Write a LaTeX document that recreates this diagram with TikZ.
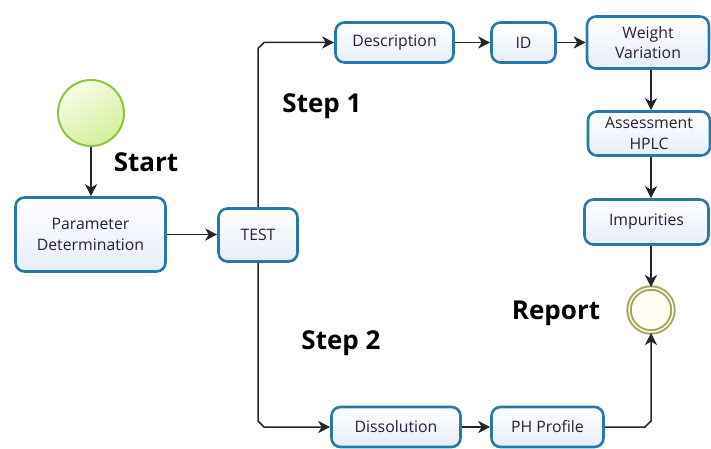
\documentclass[tikz,border=0pt]{standalone}
\usepackage{fontspec}
\setmainfont{Open Sans}
\usetikzlibrary{arrows.meta,calc}

\definecolor{boxline}{HTML}{2A78A8}
\definecolor{boxfill}{HTML}{E6EDFB}
\definecolor{boxtext}{HTML}{2C1E36}
\definecolor{startline}{HTML}{8CC63E}
\definecolor{starttop}{HTML}{F8FDE6}
\definecolor{startbot}{HTML}{D3EE9C}
\definecolor{endline}{HTML}{A9A35E}
\definecolor{endfill}{HTML}{FFFCF2}

\tikzset{
  task/.style={draw=boxline, line width=2.6pt, rounded corners=9pt,
    top color=white, bottom color=boxfill, align=center, inner sep=0pt,
    text=boxtext, font=\fontsize{15.8}{20.5}\selectfont},
  startevent/.style={circle, draw=startline, line width=2pt,
    top color=starttop, bottom color=startbot, shading angle=30, inner sep=0pt},
  endevent/.style={circle, draw=endline, line width=2pt, double=white,
    double distance=1.4pt, fill=endfill, inner sep=0pt},
  conn/.style={draw=black!85, line width=1.5pt,
    -{Stealth[length=12pt,width=12pt,inset=3.5pt]}},
  steplabel/.style={font=\fontsize{26}{30}\selectfont\bfseries, text=black}
}

\begin{document}
\begin{tikzpicture}[x=1pt,y=-1pt]
\useasboundingbox (0,0) rectangle (711,449);

% events
\node[startevent, minimum size=66pt] (start) at (91,113) {};
\node[endevent, minimum size=44pt] (report) at (651,310) {};

% tasks
\node[task, minimum width=150pt, minimum height=74pt] (param) at (90.5,234.5) {Parameter\\Determination};
\node[task, minimum width=79pt, minimum height=53pt] (test) at (258,235) {TEST};
\node[task, minimum width=118pt, minimum height=40pt] (desc) at (394.5,42.5) {Description};
\node[task, minimum width=64pt, minimum height=40pt] (id) at (523.5,42.5) {ID};
\node[task, minimum width=122pt, minimum height=52pt] (wv) at (648,42.5) {Weight\\Variation};
\node[task, minimum width=122pt, minimum height=44pt] (assay) at (649,133.5) {Assessment\\HPLC};
\node[task, minimum width=124pt, minimum height=45pt] (imp) at (646.5,222) {Impurities};
\node[task, minimum width=129pt, minimum height=40pt] (dis) at (396,427) {Dissolution};
\node[task, minimum width=112pt, minimum height=40pt] (ph) at (547.5,427) {PH Profile};

% labels
\node[steplabel] (lstart) at (146,162) {Start};
\node[steplabel] (lstep1) at (322,106) {Step 1};
\node[steplabel] (lstep2) at (341,343) {Step 2};
\node[steplabel] (lreport) at (556,313) {Report};

% corner points of the branching connectors
\coordinate (c1) at (test.north |- desc.west);
\coordinate (c2) at (test.south |- dis.west);
\coordinate (c3) at (report |- ph.east);

% connectors
\draw[conn] (start.south) -- (start.south |- param.north);
\draw[conn] (param.east) -- (param.east -| test.west);
\draw[conn] (test.north) -- ($(c1)+(0,6)$) -- ($(c1)+(6,0)$) -- (desc.west);
\draw[conn] (desc.east) -- (id.west);
\draw[conn] (id.east) -- (id.east -| wv.west);
\draw[conn] (report |- wv.south) -- (report |- assay.north);
\draw[conn] (report |- assay.south) -- (report |- imp.north);
\draw[conn] (report |- imp.south) -- (report.north);
\draw[conn] (test.south) -- ($(c2)+(0,-6)$) -- ($(c2)+(6,0)$) -- (dis.west);
\draw[conn] (dis.east) -- (ph.west);
\draw[conn] (ph.east) -- ($(c3)+(-6,0)$) -- ($(c3)+(0,-6)$) -- (report.south);
\end{tikzpicture}
\end{document}
